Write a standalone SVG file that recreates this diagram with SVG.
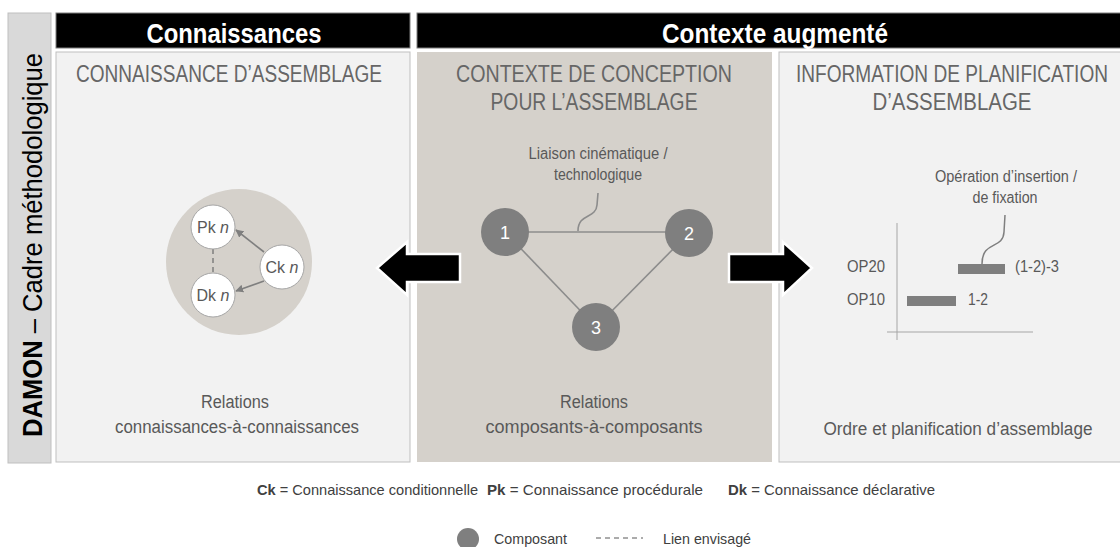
<svg xmlns="http://www.w3.org/2000/svg" width="1120" height="547" viewBox="0 0 1120 547">
<defs>
<style>
text{font-family:"Liberation Sans Narrow","Arial Narrow","Liberation Sans",Arial,sans-serif;}
.hdr{fill:#000;stroke:#7f7f7f;stroke-width:1}
.hdrt{fill:#fff;font-weight:bold;font-size:28px;text-anchor:middle}
.ttl{fill:#666;font-size:23px;text-anchor:middle}
.lbl{fill:#595959;font-size:18px;text-anchor:middle}
.call{fill:#595959;font-size:16px;text-anchor:middle}
.op{fill:#595959;font-size:17px}
.leg{fill:#404040;font-size:15px}
.comp{fill:#7f7f7f}
.compt{fill:#fff;font-size:18px;text-anchor:middle}
.kn{fill:#fff;stroke:#a6a6a6;stroke-width:1}
.knt{fill:#595959;font-size:16px;text-anchor:middle}
.edge{stroke:#8c8c8c;stroke-width:1.6;fill:none}
.big{fill:#000;stroke:#fff;stroke-width:2.5}
</style>
<marker id="ah" viewBox="0 0 10 10" refX="9" refY="5" markerWidth="5" markerHeight="5" orient="auto">
<path d="M0,0 L10,5 L0,10 z" fill="#7f7f7f"/>
</marker>
</defs>
<rect width="1120" height="547" fill="#fff"/>

<g id="sidebar">
<rect x="8" y="13" width="43" height="450" fill="#d9d9d9" stroke="#bfbfbf" stroke-width="1"/>
<text transform="translate(42,245) rotate(-90)" text-anchor="middle" font-size="27" fill="#000" textLength="384" lengthAdjust="spacingAndGlyphs"><tspan font-weight="bold">DAMON</tspan> – Cadre méthodologique</text>
</g>

<g id="header-connaissances">
<rect class="hdr" x="56" y="13" width="354" height="35"/>
<text class="hdrt" x="234" y="43" textLength="175" lengthAdjust="spacingAndGlyphs">Connaissances</text>
</g>
<g id="header-contexte">
<rect class="hdr" x="417" y="13" width="710" height="35"/>
<text class="hdrt" x="775" y="43" textLength="226" lengthAdjust="spacingAndGlyphs">Contexte augmenté</text>
</g>

<g id="panel-connaissance">
<rect x="56" y="52" width="354" height="410" fill="#f2f2f2" stroke="#bfbfbf" stroke-width="1"/>
<text class="ttl" x="229" y="82" textLength="306" lengthAdjust="spacingAndGlyphs">CONNAISSANCE D’ASSEMBLAGE</text>
<text class="lbl" x="235" y="408" textLength="68" lengthAdjust="spacingAndGlyphs">Relations</text>
<text class="lbl" x="237" y="433" textLength="244" lengthAdjust="spacingAndGlyphs">connaissances-à-connaissances</text>
</g>

<g id="panel-conception">
<rect x="417" y="52" width="355" height="410" fill="#d5d1cb"/>
<text class="ttl" x="594" y="82" textLength="276" lengthAdjust="spacingAndGlyphs">CONTEXTE DE CONCEPTION</text>
<text class="ttl" x="594" y="110" textLength="207" lengthAdjust="spacingAndGlyphs">POUR L’ASSEMBLAGE</text>
<text class="lbl" x="594" y="408" textLength="68" lengthAdjust="spacingAndGlyphs">Relations</text>
<text class="lbl" x="594" y="433" textLength="217" lengthAdjust="spacingAndGlyphs">composants-à-composants</text>
</g>

<g id="panel-planification">
<rect x="779" y="52" width="350" height="410" fill="#f2f2f2" stroke="#bfbfbf" stroke-width="1"/>
<text class="ttl" x="1108" y="82" style="text-anchor:end" textLength="312" lengthAdjust="spacingAndGlyphs">INFORMATION DE PLANIFICATION</text>
<text class="ttl" x="952" y="110" textLength="159" lengthAdjust="spacingAndGlyphs">D’ASSEMBLAGE</text>
<text class="lbl" x="958" y="435" textLength="269" lengthAdjust="spacingAndGlyphs">Ordre et planification  d’assemblage</text>
</g>

<g id="knowledge-cluster">
<circle cx="239" cy="262" r="73" fill="#d5d1cb"/>
</g>

<g id="connectors">
<line x1="213" y1="249" x2="213" y2="273" stroke="#7f7f7f" stroke-width="1.5" stroke-dasharray="5,4"/>
<line x1="264" y1="252" x2="236" y2="230" stroke="#7f7f7f" stroke-width="1.6" marker-end="url(#ah)"/>
<line x1="264" y1="281" x2="236" y2="291" stroke="#7f7f7f" stroke-width="1.6" marker-end="url(#ah)"/>
<line class="edge" x1="505" y1="232" x2="689" y2="232"/>
<line class="edge" x1="505" y1="232" x2="596" y2="327"/>
<line class="edge" x1="689" y1="233" x2="596" y2="327"/>
<path class="edge" d="M578,231 C578,213 596,219 597,205 L598,193"/>
<path d="M982,264 C982,240 1003,250 1004,232 L1005,215" stroke="#7f7f7f" stroke-width="1.5" fill="none"/>
</g>

<g id="node-pk">
<circle class="kn" cx="213" cy="227" r="22"/>
<text class="knt" x="213" y="233">Pk <tspan font-style="italic">n</tspan></text>
</g>
<g id="node-dk">
<circle class="kn" cx="213" cy="295" r="22"/>
<text class="knt" x="213" y="301">Dk <tspan font-style="italic">n</tspan></text>
</g>
<g id="node-ck">
<circle class="kn" cx="282" cy="267" r="22"/>
<text class="knt" x="282" y="273">Ck <tspan font-style="italic">n</tspan></text>
</g>

<g id="node-1">
<circle class="comp" cx="505" cy="232" r="24"/>
<text class="compt" x="505" y="239">1</text>
</g>
<g id="node-2">
<circle class="comp" cx="689" cy="233" r="24"/>
<text class="compt" x="689" y="240">2</text>
</g>
<g id="node-3">
<circle class="comp" cx="596" cy="327" r="24"/>
<text class="compt" x="596" y="334">3</text>
</g>
<g id="label-liaison">
<text class="call" x="598" y="159" textLength="139" lengthAdjust="spacingAndGlyphs">Liaison cinématique /</text>
<text class="call" x="598" y="180" textLength="88" lengthAdjust="spacingAndGlyphs">technologique</text>
</g>

<g id="gantt">
<line x1="897" y1="223" x2="897" y2="340" stroke="#a6a6a6" stroke-width="1"/>
<line x1="887" y1="332" x2="1033" y2="332" stroke="#a6a6a6" stroke-width="1"/>
<rect x="958" y="264" width="47" height="10" fill="#7f7f7f"/>
<rect x="907" y="296" width="49" height="10" fill="#7f7f7f"/>
<text class="op" x="885" y="272" text-anchor="end" textLength="38" lengthAdjust="spacingAndGlyphs">OP20</text>
<text class="op" x="885" y="305" text-anchor="end" textLength="38" lengthAdjust="spacingAndGlyphs">OP10</text>
<text class="op" x="1015" y="272" textLength="44" lengthAdjust="spacingAndGlyphs">(1-2)-3</text>
<text class="op" x="968" y="305" textLength="20" lengthAdjust="spacingAndGlyphs">1-2</text>
<text class="call" x="1006" y="182" textLength="142" lengthAdjust="spacingAndGlyphs">Opération d’insertion /</text>
<text class="call" x="1005" y="203" textLength="65" lengthAdjust="spacingAndGlyphs">de fixation</text>
</g>

<g id="arrows">
<polygon class="big" points="377,268 407,242 407,254 460,254 460,282 407,282 407,295"/>
<polygon class="big" points="812,268 783,242 783,254 729,254 729,282 783,282 783,295"/>
</g>

<g id="legend">
<text class="leg" x="257" y="495" textLength="221" lengthAdjust="spacingAndGlyphs"><tspan font-weight="bold">Ck</tspan> = Connaissance  conditionnelle</text>
<text class="leg" x="487" y="495" textLength="216" lengthAdjust="spacingAndGlyphs"><tspan font-weight="bold">Pk</tspan> = Connaissance  procédurale</text>
<text class="leg" x="728" y="495" textLength="207" lengthAdjust="spacingAndGlyphs"><tspan font-weight="bold">Dk</tspan> = Connaissance  déclarative</text>
<circle cx="468" cy="539" r="11" fill="#7f7f7f"/>
<text class="leg" x="494" y="544" textLength="73" lengthAdjust="spacingAndGlyphs">Composant</text>
<line x1="596" y1="538" x2="643" y2="538" stroke="#595959" stroke-width="1" stroke-dasharray="5,4"/>
<text class="leg" x="663" y="544" textLength="88" lengthAdjust="spacingAndGlyphs">Lien envisagé</text>
</g>
</svg>
